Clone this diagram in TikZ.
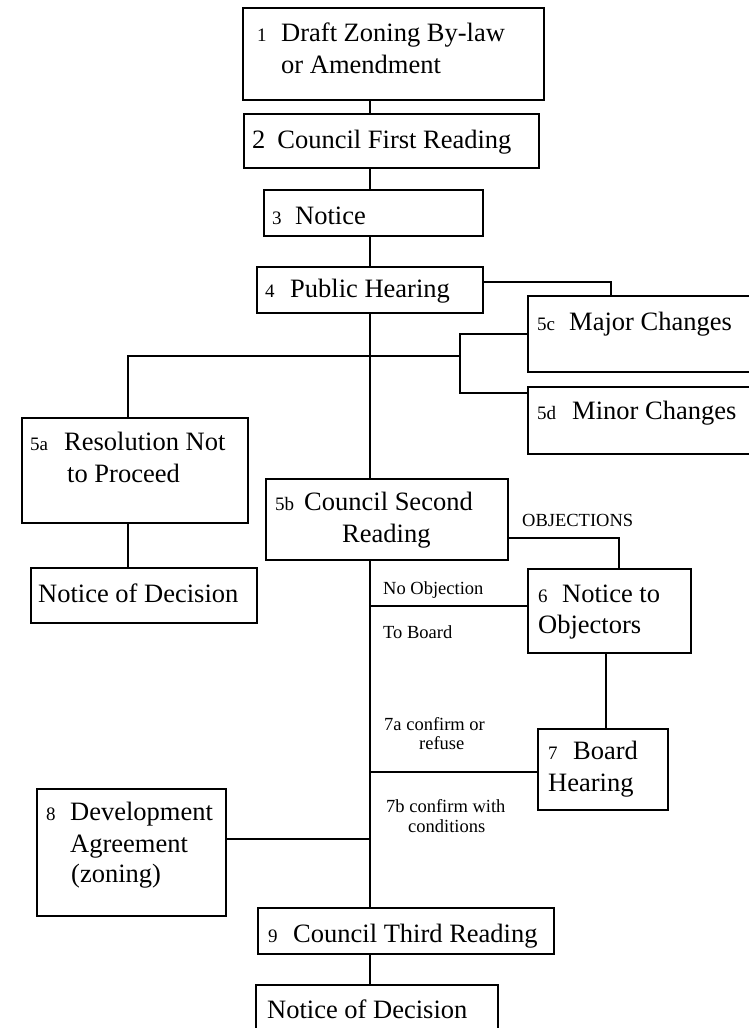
\documentclass[tikz,border=0pt]{standalone}
\usepackage{fontspec}
\setmainfont{Liberation Serif}
\begin{document}
\begin{tikzpicture}[x=1pt,y=-1pt,
  box/.style={draw,line width=1.8pt,rectangle,anchor=north west,inner sep=0pt},
  big/.style={anchor=base west,inner sep=0pt,font=\fontsize{26.5}{28}\selectfont},
  num/.style={anchor=base west,inner sep=0pt,font=\fontsize{19}{20}\selectfont},
  lab/.style={anchor=base west,inner sep=0pt,font=\fontsize{18.5}{20}\selectfont},
  conn/.style={line width=1.8pt}]
\useasboundingbox (0,0) rectangle (749,1028);
% boxes
\node[box,minimum width=301pt,minimum height=92pt] (b1) at (242,7) {};
\node[box,minimum width=295pt,minimum height=54pt] (b2) at (243,113) {};
\node[box,minimum width=219pt,minimum height=46pt] (b3) at (263,189) {};
\node[box,minimum width=226pt,minimum height=46pt] (b4) at (256,266) {};
\node[box,minimum width=230pt,minimum height=76pt] (b5c) at (527,295) {};
\node[box,minimum width=230pt,minimum height=67pt] (b5d) at (527,386) {};
\node[box,minimum width=226pt,minimum height=105pt] (b5a) at (21,417) {};
\node[box,minimum width=226pt,minimum height=55pt] (nd1) at (30,567) {};
\node[box,minimum width=242pt,minimum height=81pt] (b5b) at (265,478) {};
\node[box,minimum width=163pt,minimum height=84pt] (b6) at (527,568) {};
\node[box,minimum width=130pt,minimum height=81pt] (b7) at (537,728) {};
\node[box,minimum width=189pt,minimum height=127pt] (b8) at (36,788) {};
\node[box,minimum width=296pt,minimum height=46pt] (b9) at (257,907) {};
\node[box,minimum width=242pt,minimum height=60pt] (nd2) at (255,984) {};
% texts
\node[num] (t1a) at (257,41) {1};
\node[big] (t1b) at (281,41) {Draft Zoning By-law};
\node[big] (t1c) at (281,73) {or Amendment};
\node[big] (t2) at (252,148) {2\hspace{0.45em}Council First Reading};
\node[num] (t3a) at (272,224) {3};
\node[big] (t3b) at (295,224) {Notice};
\node[num] (t4a) at (265,297) {4};
\node[big] (t4b) at (290,297) {Public Hearing};
\node[num] (t5ca) at (537,330) {5c};
\node[big] (t5cb) at (569,330) {Major Changes};
\node[num] (t5da) at (537,419) {5d};
\node[big] (t5db) at (572,419) {Minor Changes};
\node[num] (t5aa) at (30,450) {5a};
\node[big] (t5ab) at (64,450) {Resolution Not};
\node[big] (t5ac) at (67,482) {to Proceed};
\node[big] (tnd1) at (38,602) {Notice of Decision};
\node[num] (t5ba) at (275,510) {5b};
\node[big] (t5bb) at (304,510) {Council Second};
\node[big] (t5bc) at (342,542) {Reading};
\node[lab] (tobj) at (522,526) {OBJECTIONS};
\node[num] (t6a) at (538,602) {6};
\node[big] (t6b) at (562,602) {Notice to};
\node[big] (t6c) at (538,633) {Objectors};
\node[lab] (tno) at (383,594) {No Objection};
\node[lab] (ttb) at (383,638) {To Board};
\node[num] (t7a) at (548,759) {7};
\node[big] (t7b) at (573,759) {Board};
\node[big] (t7c) at (548,791) {Hearing};
\node[lab] (t7aa) at (384,730) {7a confirm or};
\node[lab] (t7ab) at (419,749) {refuse};
\node[lab] (t7ba) at (386,812) {7b confirm with};
\node[lab] (t7bb) at (408,832) {conditions};
\node[num] (t8a) at (46,820) {8};
\node[big] (t8b) at (70,820) {Development};
\node[big] (t8c) at (70,852) {Agreement};
\node[big] (t8d) at (71,882) {(zoning)};
\node[num] (t9a) at (268,942) {9};
\node[big] (t9b) at (293,942) {Council Third Reading};
\node[big] (tnd2) at (267,1018) {Notice of Decision};
% junctions
\coordinate (sp) at (370,0);
\coordinate (j4) at (611,282);
\coordinate (ja) at (128,356);
\coordinate (jb) at (460,356);
\coordinate (jd) at (460,393);
\coordinate (jo) at (619,538);
\coordinate (jn) at (370,606);
\coordinate (j67) at (606,0);
\coordinate (j7) at (370,772);
\coordinate (j8) at (370,839);
% connectors
\draw[conn] (b1.south -| sp) -- (b2.north -| sp);
\draw[conn] (b2.south -| sp) -- (b3.north -| sp);
\draw[conn] (b3.south -| sp) -- (b4.north -| sp);
\draw[conn] (b4.south -| sp) -- (b5b.north -| sp);
\draw[conn] (b4.east |- j4) -- (j4) -- (b5c.north -| j4);
\draw[conn] (b5a.north -| ja) -- (ja) -- (jb);
\draw[conn] (b5c.west) -- (b5c.west -| jb) -- (jd) -- (b5d.west |- jd);
\draw[conn] (b5a.south -| ja) -- (nd1.north -| ja);
\draw[conn] (b5b.east |- jo) -- (jo) -- (b6.north -| jo);
\draw[conn] (b5b.south -| sp) -- (b9.north -| sp);
\draw[conn] (jn) -- (b6.west |- jn);
\draw[conn] (b6.south -| j67) -- (b7.north -| j67);
\draw[conn] (j7) -- (b7.west |- j7);
\draw[conn] (b8.east |- j8) -- (j8);
\draw[conn] (b9.south -| sp) -- (nd2.north -| sp);
\end{tikzpicture}
\end{document}
